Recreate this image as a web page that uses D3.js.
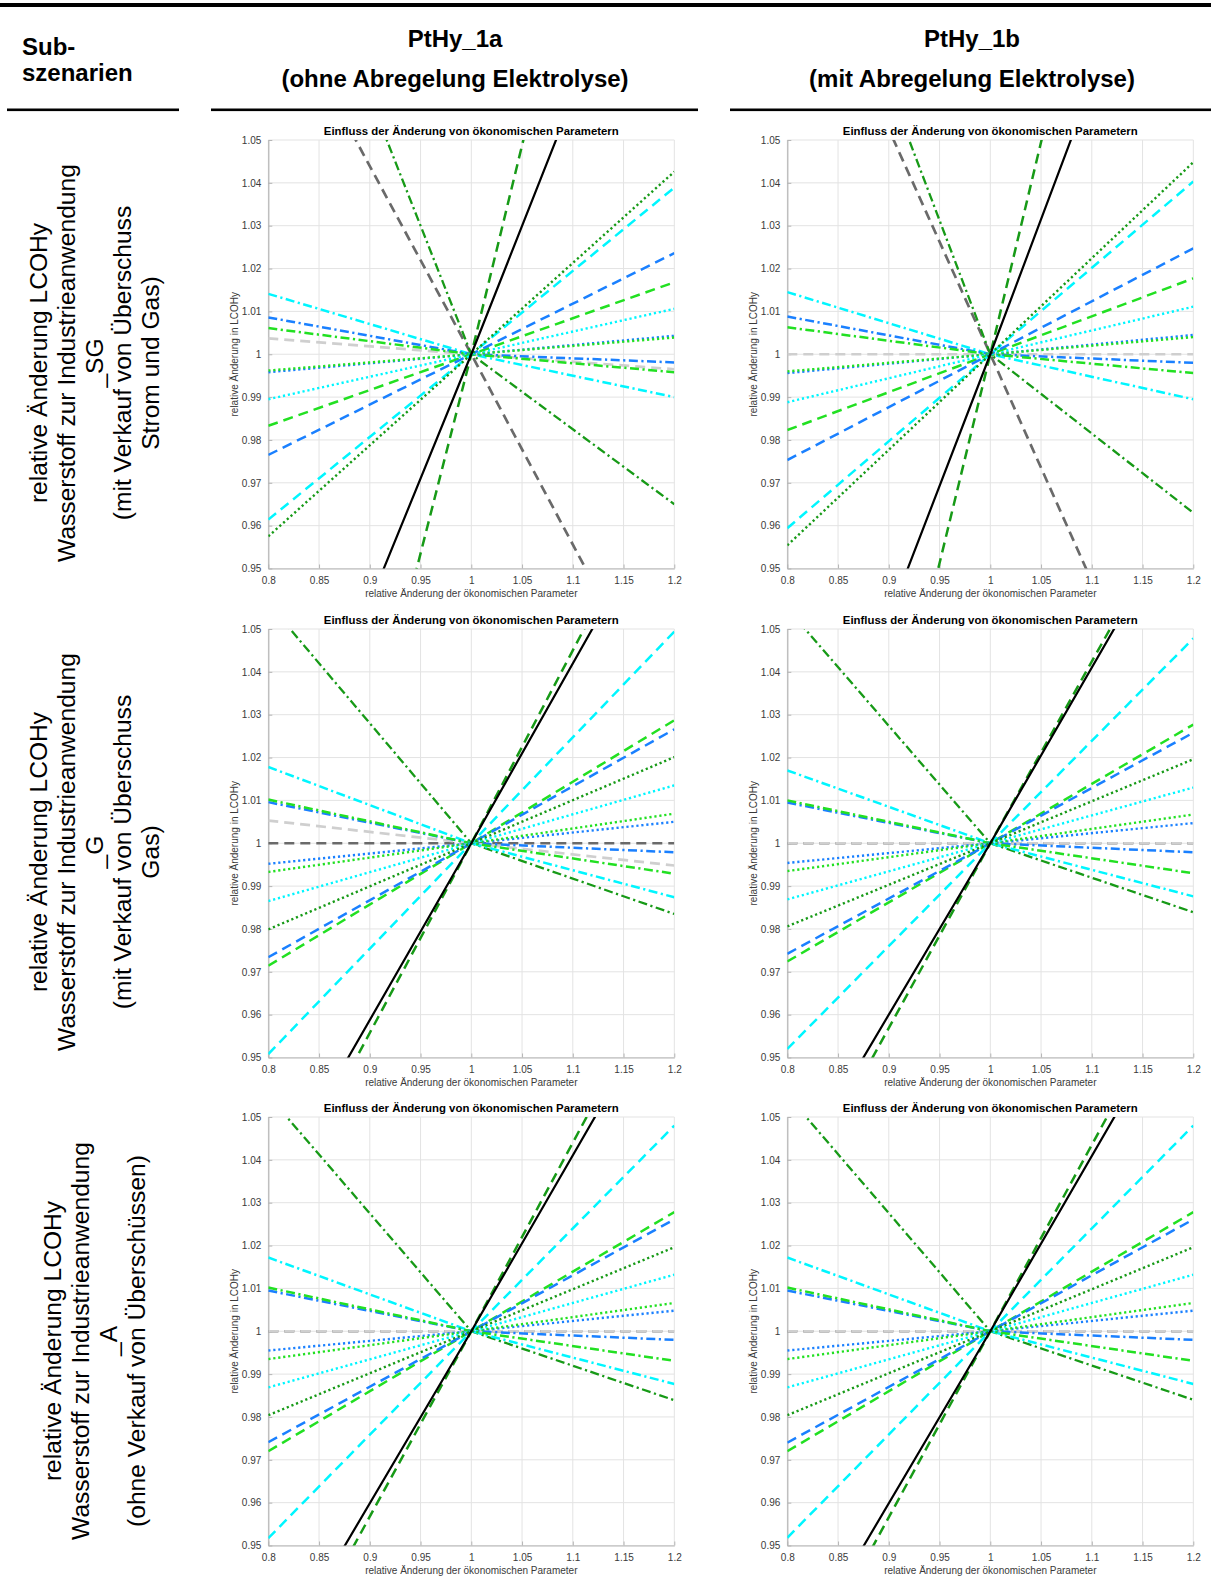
<!DOCTYPE html>
<html><head><meta charset="utf-8">
<script src="https://cdn.jsdelivr.net/npm/d3@7"></script>
<style>body{margin:0;background:#fff}svg{display:block}</style>
</head><body>
<svg id="c" width="1211" height="1591"></svg>
<script>
// ---------- data ----------
const xKnots = [0.8, 1.0, 1.2];          // parameter change points
const yAtBase = 1.0;                      // all curves pass through (1,1)
const xTicks = [0.8, 0.85, 0.9, 0.95, 1, 1.05, 1.1, 1.15, 1.2];
const yTicks = [0.95, 0.96, 0.97, 0.98, 0.99, 1, 1.01, 1.02, 1.03, 1.04, 1.05];

const columnTitles = ["PtHy_1a", "PtHy_1b"];
const columnSubtitles = ["(ohne Abregelung Elektrolyse)", "(mit Abregelung Elektrolyse)"];
const rowLabels = [
  ["relative Änderung LCOHy", "Wasserstoff zur Industrieanwendung", "_SG", "(mit Verkauf von Überschuss", "Strom und Gas)"],
  ["relative Änderung LCOHy", "Wasserstoff zur Industrieanwendung", "_G", "(mit Verkauf von Überschuss", "Gas)"],
  ["relative Änderung LCOHy", "Wasserstoff zur Industrieanwendung", "_A", "(ohne Verkauf von Überschüssen)"]
];
const panelTitle = "Einfluss der Änderung von ökonomischen Parametern";
const xLabel = "relative Änderung der ökonomischen Parameter";
const yLabel = "relative Änderung in LCOHy";

// series order (draw order)
const seriesIds = ["grayDark", "grayLight", "dkGreenDashDot", "cyanDashDot", "blueDashDot", "greenDashDot",
  "blueDot", "greenDot", "cyanDot", "greenDash", "blueDash", "cyanDash", "dkGreenDot", "dkGreenDash", "black"];

// y values at x = 0.8 (left) and x = 1.2 (right)
const sg1aLeft  = [1.0878, 1.0037, 1.120, 1.0141, 1.0086, 1.0061, 0.9958, 0.9962, 0.9895, 0.9833, 0.9765, 0.9614, 0.9575, 0.814, 0.884];
const sg1aRight = [0.9112, 0.9965, 0.965, 0.9900, 0.9981, 0.9958, 1.0043, 1.0039, 1.0106, 1.0168, 1.0236, 1.0389, 1.0426, 1.195, 1.1198];
const sg1bLeft  = [1.105, 1.0, 1.125, 1.0145, 1.0088, 1.0063, 0.9956, 0.9960, 0.9888, 0.9823, 0.9753, 0.9594, 0.9554, 0.805, 0.877];
const sg1bRight = [0.894, 1.0, 0.963, 0.9895, 0.9980, 0.9956, 1.0045, 1.0040, 1.0111, 1.0177, 1.0247, 1.0403, 1.0448, 1.198, 1.126];
const g1aLeft   = [1.0, 1.0053, 1.056, 1.0178, 1.0096, 1.0102, 0.9952, 0.9933, 0.9865, 0.9714, 0.9734, 0.9508, 0.9799, 0.9115, 0.9175];
const g1aRight  = [1.0, 0.9948, 0.9835, 0.9874, 0.9979, 0.9929, 1.0050, 1.0069, 1.0135, 1.0287, 1.0266, 1.0494, 1.0201, 1.090, 1.0839];
const g1bLeft   = [1.0, 1.0, 1.0548, 1.0170, 1.0095, 1.0100, 0.9954, 0.9935, 0.9869, 0.9724, 0.9742, 0.9520, 0.9806, 0.9138, 0.920];
const g1bRight  = [1.0, 1.0, 0.9839, 0.9876, 0.9979, 0.9930, 1.0047, 1.0067, 1.0130, 1.0277, 1.0258, 1.0478, 1.0196, 1.0848, 1.082];
const a1aLeft   = [1.0, 1.0, 1.0550, 1.0172, 1.0095, 1.0102, 0.9955, 0.9935, 0.9869, 0.9720, 0.9741, 0.9517, 0.9804, 0.9135, 0.9197];
const a1aRight  = [1.0, 1.0, 0.9839, 0.9877, 0.9980, 0.9931, 1.0048, 1.0066, 1.0132, 1.0278, 1.0261, 1.0480, 1.0196, 1.088, 1.0821];
const a1bLeft   = [1.0, 1.0, 1.0551, 1.0172, 1.0095, 1.0102, 0.9955, 0.9935, 0.9869, 0.9720, 0.9740, 0.9518, 0.9804, 0.9132, 0.9197];
const a1bRight  = [1.0, 1.0, 0.9840, 0.9877, 0.9980, 0.9931, 1.0048, 1.0066, 1.0132, 1.0278, 1.0261, 1.0480, 1.0196, 1.087, 1.0818];

// ---------- styles ----------
const C = {darkGray:"#6a6a6a", lightGray:"#cfcfcf", dkGreen:"#179a17", cyan:"#00f6ff", blue:"#1a80ff", green:"#22e022", black:"#000"};
const DASH = "10,6", DOT = "2.2,2.8", DASHDOT = "9,3.5,2.2,3.5";
const seriesStyle = {
  grayDark:      {c:C.darkGray, d:DASH, w:2.7},
  grayLight:     {c:C.lightGray, d:DASH, w:2.7},
  dkGreenDashDot:{c:C.dkGreen, d:DASHDOT, w:2.3},
  cyanDashDot:   {c:C.cyan, d:DASHDOT, w:2.5},
  blueDashDot:   {c:C.blue, d:DASHDOT, w:2.5},
  greenDashDot:  {c:C.green, d:DASHDOT, w:2.5},
  blueDot:       {c:C.blue, d:DOT, w:2.4},
  greenDot:      {c:C.green, d:DOT, w:2.4},
  cyanDot:       {c:C.cyan, d:DOT, w:2.4},
  greenDash:     {c:C.green, d:DASH, w:2.5},
  blueDash:      {c:C.blue, d:DASH, w:2.5},
  cyanDash:      {c:C.cyan, d:DASH, w:2.5},
  dkGreenDot:    {c:C.dkGreen, d:DOT, w:2.4},
  dkGreenDash:   {c:C.dkGreen, d:DASH, w:2.5},
  black:         {c:C.black, d:null, w:2.2}
};

const panels = [
  {row:0, col:0, left:sg1aLeft, right:sg1aRight},
  {row:0, col:1, left:sg1bLeft, right:sg1bRight},
  {row:1, col:0, left:g1aLeft, right:g1aRight},
  {row:1, col:1, left:g1bLeft, right:g1bRight},
  {row:2, col:0, left:a1aLeft, right:a1aRight},
  {row:2, col:1, left:a1bLeft, right:a1bRight}
];

// ---------- layout ----------
const svg = d3.select("#c");
svg.append("rect").attr("width",1211).attr("height",1591).attr("fill","#fff");
const FONT = "'Liberation Sans', Arial, Helvetica, sans-serif";
const colX = [268.3, 787.3], rowY = [140, 629, 1117];
const PW = 406, PH = 428.5;

// header
svg.append("rect").attr("x",0).attr("y",3).attr("width",1211).attr("height",4).attr("fill","#000");
[[7,179],[211,698],[730,1211]].forEach(([a,b]) =>
  svg.append("rect").attr("x",a).attr("y",108.5).attr("width",b-a).attr("height",2.6).attr("fill","#000"));
const hdr = svg.append("g").attr("font-family",FONT).attr("font-weight","bold").attr("font-size",24).attr("fill","#000");
hdr.append("text").attr("x",22).attr("y",55).text("Sub-");
hdr.append("text").attr("x",22).attr("y",81).text("szenarien");
const hdrCx = [455, 972];
columnTitles.forEach((t,i) => {
  hdr.append("text").attr("x",hdrCx[i]).attr("y",47).attr("text-anchor","middle").text(t);
  hdr.append("text").attr("x",hdrCx[i]).attr("y",87).attr("text-anchor","middle").text(columnSubtitles[i]);
});

// row labels (rotated)
const rowCy = [363, 852, 1341];
rowLabels.forEach((lines, r) => {
  const n = lines.length, lh = 28, cx = 94;
  const g = svg.append("g").attr("font-family",FONT).attr("font-size",24.6).attr("fill","#000");
  lines.forEach((t,k) => {
    const xc = cx + (k - (n-1)/2) * lh + 9;
    g.append("text").attr("text-anchor","middle")
      .attr("transform",`translate(${xc},${rowCy[r]}) rotate(-90)`).text(t);
  });
});

// panels
const line = d3.line();
panels.forEach((p, pi) => {
  const px = colX[p.col], py = rowY[p.row];
  const xs = d3.scaleLinear().domain([xTicks[0], xTicks[xTicks.length-1]]).range([px, px+PW]);
  const ys = d3.scaleLinear().domain([yTicks[0], yTicks[yTicks.length-1]]).range([py+PH, py]);
  const g = svg.append("g");
  // grid
  g.selectAll(".gx").data(xTicks).join("line")
    .attr("x1",d=>xs(d)).attr("x2",d=>xs(d)).attr("y1",py).attr("y2",py+PH)
    .attr("stroke","#e3e3e3").attr("stroke-width",1);
  g.selectAll(".gy").data(yTicks).join("line")
    .attr("y1",d=>ys(d)).attr("y2",d=>ys(d)).attr("x1",px).attr("x2",px+PW)
    .attr("stroke","#e3e3e3").attr("stroke-width",1);
  // axes
  const ax = g.append("g").attr("transform",`translate(0,${py+PH})`)
    .call(d3.axisBottom(xs).tickValues(xTicks).tickFormat(d3.format("~g")).tickSizeInner(-4).tickSizeOuter(0).tickPadding(8));
  const ay = g.append("g").attr("transform",`translate(${px},0)`)
    .call(d3.axisLeft(ys).tickValues(yTicks).tickFormat(d3.format("~g")).tickSizeInner(-4).tickSizeOuter(0).tickPadding(7));
  [ax, ay].forEach(a => {
    a.select(".domain").attr("stroke","#b5b5b5").attr("stroke-width",1.2);
    a.selectAll(".tick line").attr("stroke","#b5b5b5");
    a.selectAll("text").attr("font-family",FONT).attr("font-size",10).attr("fill","#3a3a3a");
  });
  // clip
  const cid = "clip"+pi;
  svg.append("clipPath").attr("id",cid).append("rect").attr("x",px).attr("y",py).attr("width",PW).attr("height",PH);
  const lg = g.append("g").attr("clip-path",`url(#${cid})`);
  seriesIds.forEach((id, i) => {
    const st = seriesStyle[id];
    const vals = [p.left[i], yAtBase, p.right[i]];
    lg.append("path")
      .attr("d", line(xKnots.map((xv,k) => [xs(xv), ys(vals[k])])))
      .attr("fill","none").attr("stroke",st.c).attr("stroke-width",st.w)
      .attr("stroke-dasharray",st.d);
  });
  // labels
  g.append("text").attr("x",px+PW/2).attr("y",py-5).attr("text-anchor","middle")
    .attr("font-family",FONT).attr("font-weight","bold").attr("font-size",11.4).text(panelTitle);
  g.append("text").attr("x",px+PW/2).attr("y",py+PH+28).attr("text-anchor","middle")
    .attr("font-family",FONT).attr("font-size",10).attr("fill","#3a3a3a").text(xLabel);
  g.append("text").attr("transform",`translate(${px-30},${py+PH/2}) rotate(-90)`).attr("text-anchor","middle")
    .attr("font-family",FONT).attr("font-size",10).attr("fill","#3a3a3a").text(yLabel);
});
</script>
</body></html>
